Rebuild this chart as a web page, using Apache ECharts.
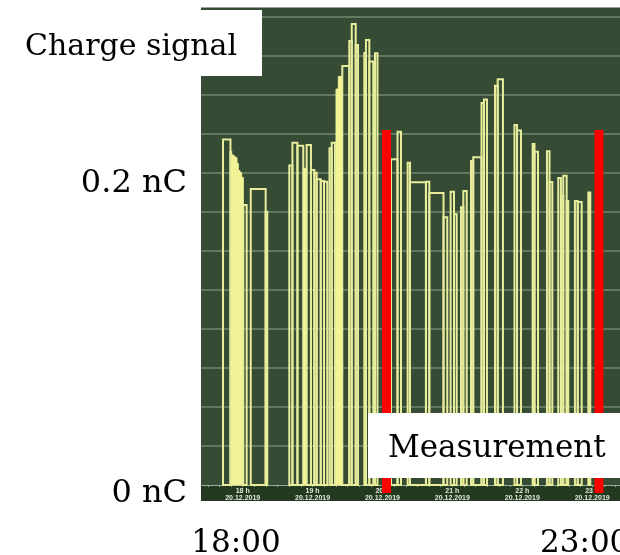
<!DOCTYPE html>
<html><head><meta charset="utf-8">
<script src="https://cdn.jsdelivr.net/npm/echarts@6/dist/echarts.min.js"></script>
<style>html,body{margin:0;padding:0;background:#fff}#c{width:620px;height:555px}</style>
</head><body><div id="c"></div>
<script>
// Time in minutes after 18:00 (20.12.2019), charge in nC
const pulseStart  = [-16.9, 0.5, 6.9, 19.7, 40.0, 42.7, 47.0, 54.9, 58.6, 61.5, 63.5, 67.0, 69.8, 74.5, 76.4, 85.5, 91.5, 93.6, 97.0, 104.4, 105.8, 108.7, 113.6, 127.3, 132.9, 141.6, 143.6, 157.3, 160.2, 172.4, 178.5, 181.4, 187.4, 189.4, 196.0, 197.9, 205.0, 207.1, 216.6, 218.9, 233.3, 235.5, 248.9, 250.5, 261.2, 263.4, 270.9, 273.2, 275.2, 278.1, 285.2, 287.6, 296.7];
const pulseEnd    = [-10.5, 3.4, 19.7, 21.1, 42.7, 47.0, 52.0, 58.6, 61.5, 63.5, 67.0, 69.8, 72.6, 76.4, 79.2, 91.5, 93.6, 97.0, 99.0, 105.8, 108.7, 112.1, 115.7, 132.9, 135.9, 143.6, 157.3, 160.2, 172.4, 175.6, 181.4, 183.7, 189.4, 192.3, 197.9, 205.0, 207.1, 209.7, 218.9, 223.4, 235.5, 238.9, 250.5, 253.5, 263.4, 265.8, 273.2, 275.2, 278.1, 279.5, 287.6, 291.0, 298.4];
const pulseCharge = [0.2215, 0.1795, 0.1897, 0.1752, 0.2048, 0.2194, 0.2175, 0.2179, 0.2019, 0.2002, 0.1960, 0.1949, 0.1944, 0.2158, 0.2194, 0.2686, 0.2846, 0.2955, 0.2821, 0.2769, 0.2853, 0.2715, 0.2767, 0.2088, 0.2265, 0.2066, 0.1940, 0.1944, 0.1872, 0.1716, 0.1880, 0.1736, 0.1781, 0.1885, 0.2077, 0.2101, 0.2449, 0.2472, 0.2559, 0.2601, 0.2308, 0.2272, 0.2186, 0.2137, 0.2139, 0.1942, 0.1968, 0.1853, 0.1983, 0.1820, 0.1820, 0.1814, 0.1875];

// dense bursts of discharges (appear as filled blocks)
const burstStart  = [-10.9, -9.4, -7.5, -6.0, -4.9, -3.8, -2.3, -0.9, 52.0, 80.1, 82.1];
const burstEnd    = [-9.4, -7.5, -6.0, -4.9, -3.8, -2.3, -0.9, 0.5, 54.9, 82.1, 85.5];
const burstCharge = [0.2141, 0.2115, 0.2104, 0.2098, 0.2062, 0.2015, 0.2002, 0.1972, 0.2030, 0.2538, 0.2619];

// red measurement markers
const markerStart  = [119.6, 302.0];
const markerEnd    = [127.3, 309.7];
const markerCharge = [0.2276, 0.2276];

const hourTicks  = [0, 60, 120, 180, 240, 300];
const hourLabels = ['18 h', '19 h', '20 h', '21 h', '22 h', '23 h'];
const dateLabel  = '20.12.2019';
const minorTickStep = 10;
const yLabels = ['0.2 nC', '0 nC'];
const xLabels = ['18:00', '23:00'];
const titleText = 'Charge signal';
const boxText = 'Measurement';

const minorTicks = [];
for (let t = -30; t <= 320; t += minorTickStep) minorTicks.push(t);

const zip = (a, b, c) => a.map((v, i) => [v, b[i], c[i]]);

function rectRender(fill, stroke, lw, extra) {
  return function (params, api) {
    const a = api.coord([api.value(0), api.value(2)]);
    const b = api.coord([api.value(1), 0]);
    return {
      type: 'rect',
      shape: { x: a[0], y: a[1], width: b[0] - a[0], height: b[1] - a[1] + (extra || 0) },
      style: { fill: fill, stroke: stroke, lineWidth: lw }
    };
  };
}

const chart = echarts.init(document.getElementById('c'), null, { renderer: 'canvas' });
const serif = 'DejaVu Serif';
chart.setOption({
  animation: false,
  grid: { left: 201, top: 7.5, right: 0, bottom: 70, show: true, backgroundColor: '#354b34', borderWidth: 0 },
  xAxis: {
    type: 'value', min: -35.8, max: 323.9,
    axisLine: { show: true, onZero: false, lineStyle: { color: '#9aab95', width: 1 } },
    axisTick: { show: true, customValues: minorTicks, length: 2, lineStyle: { color: '#9aab95' } },
    axisLabel: {
      customValues: hourTicks, margin: 3, color: '#e4ead8', fontSize: 7, fontWeight: 'bold',
      fontFamily: 'Liberation Sans', lineHeight: 7,
      formatter: v => hourLabels[hourTicks.indexOf(Math.round(v))] + '\n' + dateLabel
    },
    splitLine: { show: false }
  },
  yAxis: {
    type: 'value', min: 0, max: 0.3061, interval: 0.025,
    axisLine: { show: false }, axisTick: { show: false }, axisLabel: { show: false },
    splitLine: { show: true, showMinLine: false, showMaxLine: false, lineStyle: { color: '#71876c', width: 1.5 } }
  },
  series: [
    { type: 'custom', name: 'bursts', data: zip(burstStart, burstEnd, burstCharge), encode: { x: [0, 1], y: 2 },
      renderItem: rectRender('#f6f68f', '#f0f29c', 1), z: 2 },
    { type: 'custom', name: 'pulses', data: zip(pulseStart, pulseEnd, pulseCharge), encode: { x: [0, 1], y: 2 },
      renderItem: rectRender('none', '#e8ed9c', 2), z: 3 },
    { type: 'custom', name: 'markers', data: zip(markerStart, markerEnd, markerCharge), encode: { x: [0, 1], y: 2 },
      renderItem: rectRender('#ff0000', null, 0, 8), clip: false, z: 4 }
  ],
  graphic: [
    { type: 'rect', z: -1, shape: { x: 201, y: 485, width: 419, height: 16 }, style: { fill: '#243a20' } },
    { type: 'rect', z: 100, shape: { x: 0, y: 10, width: 262, height: 66 }, style: { fill: '#ffffff' } },
    { type: 'text', z: 101, x: 25, y: 47, style: { text: titleText, font: '30px "' + serif + '"', fill: '#000', verticalAlign: 'middle', align: 'left' } },
    { type: 'rect', z: 100, shape: { x: 368, y: 413, width: 252, height: 65 }, style: { fill: '#ffffff' } },
    { type: 'text', z: 101, x: 388, y: 449, style: { text: boxText, font: '31px "' + serif + '"', fill: '#000', verticalAlign: 'middle', align: 'left' } },
    { type: 'text', z: 101, x: 187, y: 184, style: { text: yLabels[0], font: '32px "' + serif + '"', fill: '#000', verticalAlign: 'middle', align: 'right' } },
    { type: 'text', z: 101, x: 187, y: 494, style: { text: yLabels[1], font: '32px "' + serif + '"', fill: '#000', verticalAlign: 'middle', align: 'right' } },
    { type: 'text', z: 101, x: 236, y: 544, style: { text: xLabels[0], font: '31px "' + serif + '"', fill: '#000', verticalAlign: 'middle', align: 'center' } },
    { type: 'text', z: 101, x: 540, y: 544, style: { text: xLabels[1], font: '31px "' + serif + '"', fill: '#000', verticalAlign: 'middle', align: 'left' } }
  ]
});
</script></body></html>
